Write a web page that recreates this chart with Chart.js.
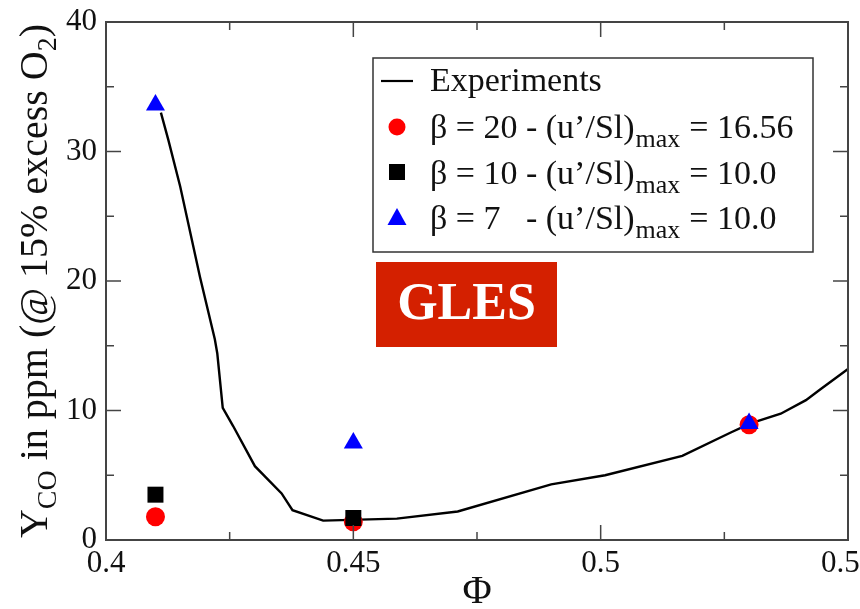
<!DOCTYPE html>
<html><head><meta charset="utf-8">
<script src="https://cdn.jsdelivr.net/npm/chart.js@4/dist/chart.umd.min.js"></script>
<style>
html,body{margin:0;padding:0;background:#fff;overflow:hidden;}
#clip{width:860px;height:609px;overflow:hidden;position:relative;background:#fff;}
#wrap{width:876px;height:609px;position:relative;}
</style></head><body>
<div id="clip"><div id="wrap"><canvas id="c"></canvas></div></div>
<script>
// ---- data ----
const expPhi = [0.4111, 0.4126, 0.4150, 0.4190, 0.4220, 0.4225, 0.4236, 0.4257, 0.4301, 0.4355, 0.4377, 0.4439, 0.4588, 0.4711, 0.4900, 0.5009, 0.5165, 0.5263, 0.5303, 0.5364, 0.5415, 0.5443, 0.5500];
const expY   = [33.0,   30.9,   27.3,   20.3,   15.5,   14.4,   10.2,   8.8,    5.7,    3.6,    2.3,    1.5,    1.65,   2.2,    4.3,    5.0,    6.5,    8.3,    9.0,    9.75,   10.8,   11.6,   13.2];
const symPhi    = [0.41, 0.45, 0.53];
const beta20Y   = [1.8, 1.4, 8.9];
const beta10Phi = [0.41, 0.45];
const beta10Y   = [3.5, 1.7];
const beta7Y    = [33.6, 7.5, 9.0];
const xTickVals   = [0.4, 0.45, 0.5, 0.55];
const xTickLabels = ['0.4', '0.45', '0.5', '0.55'];
const xMinor      = [0.425, 0.475, 0.525];
const yTickVals   = [0, 10, 20, 30, 40];
const yTickLabels = ['0', '10', '20', '30', '40'];
const yMinor      = [5, 15, 25, 35];
const seriesNames = ['Experiments', 'β = 20', 'β = 10', 'β = 7'];
const legendMid   = '- (u’/Sl)';
const legendSub   = 'max';
const legendTail  = ['', '= 16.56', '= 10.0', '= 10.0'];
const badgeText   = 'GLES';

const SERIF = "'Liberation Serif', 'Times New Roman', serif";

const pts = (xs, ys) => xs.map((v, i) => ({x: v, y: ys[i]}));

const frame = {
  id: 'frame',
  afterDraw(chart) {
    const {ctx, chartArea: a, scales: {x, y}} = chart;
    ctx.save();
    // ticks
    ctx.strokeStyle = '#444';
    ctx.lineWidth = 1.5;
    const seg = (x1, y1, x2, y2) => { ctx.beginPath(); ctx.moveTo(x1, y1); ctx.lineTo(x2, y2); ctx.stroke(); };
    xTickVals.forEach(v => { const p = x.getPixelForValue(v); seg(p, a.bottom, p, a.bottom - 15); seg(p, a.top, p, a.top + 15); });
    xMinor.forEach(v => { const p = x.getPixelForValue(v); seg(p, a.bottom, p, a.bottom - 8); seg(p, a.top, p, a.top + 8); });
    yTickVals.forEach(v => { const p = y.getPixelForValue(v); seg(a.left, p, a.left + 15, p); seg(a.right, p, a.right - 15, p); });
    yMinor.forEach(v => { const p = y.getPixelForValue(v); seg(a.left, p, a.left + 8, p); seg(a.right, p, a.right - 8, p); });
    // frame
    ctx.lineWidth = 2;
    ctx.strokeRect(a.left, a.top, a.right - a.left, a.bottom - a.top);

    // y title with subscripts
    ctx.fillStyle = '#111';
    ctx.textBaseline = 'alphabetic';
    ctx.textAlign = 'left';
    const big = '40px ' + SERIF, small = '28px ' + SERIF;
    const parts = [['Y', big, 0], ['CO', small, 9], [' in ppm (@ 15% excess O', big, 0], ['2', small, 9], [')', big, 0]];
    let tot = 0;
    parts.forEach(p => { ctx.font = p[1]; tot += ctx.measureText(p[0]).width; });
    ctx.save();
    ctx.translate(47, (a.top + a.bottom) / 2);
    ctx.rotate(-Math.PI / 2);
    let cx = -tot / 2;
    parts.forEach(p => { ctx.font = p[1]; ctx.fillText(p[0], cx, p[2]); cx += ctx.measureText(p[0]).width; });
    ctx.restore();

    // x title
    ctx.font = '40px ' + SERIF;
    ctx.textAlign = 'center';
    ctx.fillText('Φ', (a.left + a.right) / 2, 603);

    // GLES badge
    ctx.fillStyle = '#d42000';
    ctx.fillRect(376, 262, 181, 85);
    ctx.fillStyle = '#fff';
    ctx.font = 'bold 52px ' + SERIF;
    ctx.textAlign = 'center';
    ctx.textBaseline = 'middle';
    ctx.fillText(badgeText, 466.5, 306);

    // legend
    ctx.fillStyle = '#fff';
    ctx.fillRect(373, 58, 440, 194);
    ctx.strokeStyle = '#333';
    ctx.lineWidth = 1.5;
    ctx.strokeRect(373, 58, 440, 194);
    const base = [91, 138, 183.5, 229];
    const sx = 397;
    // symbols
    ctx.strokeStyle = '#000'; ctx.lineWidth = 2.2;
    seg(381, 81, 413, 81);
    ctx.fillStyle = '#ff0000';
    ctx.beginPath(); ctx.arc(sx, 127, 8.5, 0, Math.PI * 2); ctx.fill();
    ctx.fillStyle = '#000';
    ctx.fillRect(sx - 8, 172 - 8, 16, 16);
    ctx.fillStyle = '#0000ff';
    ctx.beginPath(); ctx.moveTo(sx, 218 - 10); ctx.lineTo(sx + 9.5, 218 + 7); ctx.lineTo(sx - 9.5, 218 + 7); ctx.closePath(); ctx.fill();
    // texts
    ctx.fillStyle = '#111';
    ctx.textAlign = 'left';
    ctx.textBaseline = 'alphabetic';
    const lf = '34px ' + SERIF, sf = '26px ' + SERIF;
    ctx.font = lf;
    ctx.fillText(seriesNames[0], 430, base[0]);
    const midX = 430 + ctx.measureText(seriesNames[1] + ' ').width;
    for (let i = 1; i < 4; i++) {
      ctx.font = lf;
      ctx.fillText(seriesNames[i], 430, base[i]);
      ctx.fillText(legendMid, midX, base[i]);
      let px = midX + ctx.measureText(legendMid).width + 1;
      ctx.font = sf;
      ctx.fillText(legendSub, px, base[i] + 9);
      px += ctx.measureText(legendSub).width + 9;
      ctx.font = lf;
      ctx.fillText(legendTail[i], px, base[i]);
    }
    ctx.restore();
  }
};

new Chart(document.getElementById('c'), {
  type: 'scatter',
  data: {
    datasets: [
      {label: seriesNames[0], data: pts(expPhi, expY), showLine: true, borderColor: '#000', borderWidth: 2.4, pointRadius: 0, tension: 0, order: 3},
      {label: seriesNames[1], data: pts(symPhi, beta20Y), pointStyle: 'circle', pointRadius: 9.5, backgroundColor: '#ff0000', borderColor: '#ff0000', borderWidth: 0, order: 2},
      {label: seriesNames[2], data: pts(beta10Phi, beta10Y), pointStyle: 'rect', pointRadius: 11.3, backgroundColor: '#000', borderColor: '#000', borderWidth: 0, order: 1},
      {label: seriesNames[3], data: pts(symPhi, beta7Y), pointStyle: 'triangle', pointRadius: 11, backgroundColor: '#0000ff', borderColor: '#0000ff', borderWidth: 0, order: 0}
    ]
  },
  options: {
    responsive: true,
    maintainAspectRatio: false,
    animation: false,
    devicePixelRatio: 1,
    layout: {padding: {top: 22, right: 28, left: 0, bottom: 0}},
    plugins: {legend: {display: false}, tooltip: {enabled: false}},
    scales: {
      x: {
        type: 'linear', min: 0.4, max: 0.55,
        grid: {display: false, drawTicks: false},
        border: {display: false},
        afterBuildTicks: s => { s.ticks = xTickVals.map(v => ({value: v})); },
        afterFit: s => { s.height = 69; s.paddingRight = 0; s.paddingLeft = 0; },
        ticks: {callback: (v, i) => xTickLabels[i], font: {family: SERIF, size: 31}, color: '#111', padding: 5, maxRotation: 0, autoSkip: false}
      },
      y: {
        type: 'linear', min: 0, max: 40,
        grid: {display: false, drawTicks: false},
        border: {display: false},
        afterBuildTicks: s => { s.ticks = yTickVals.map(v => ({value: v})); },
        afterFit: s => { s.width = 106; s.paddingTop = 0; s.paddingBottom = 0; },
        ticks: {callback: (v, i) => yTickLabels[i], font: {family: SERIF, size: 31}, color: '#111', padding: 9, autoSkip: false}
      }
    }
  },
  plugins: [frame]
});
</script>
</body></html>
